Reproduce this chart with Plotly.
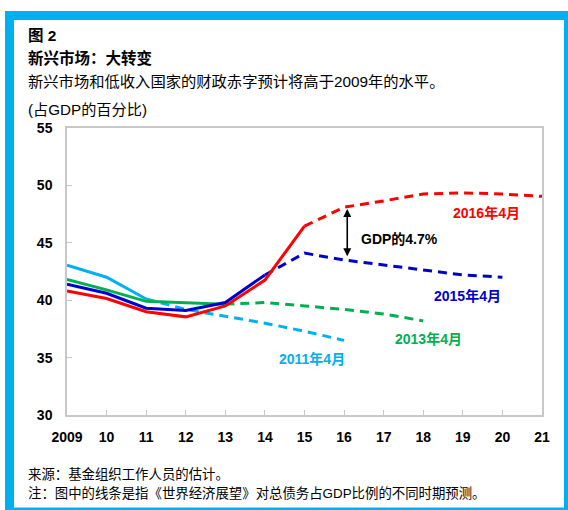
import plotly.graph_objects as go

years = list(range(2009, 2022))
tick_labels = ["2009", "10", "11", "12", "13", "14", "15", "16", "17", "18", "19", "20", "21"]

# Projection vintages (percent of GDP); last actual year index marks solid/dashed split
apr2016_years = list(range(2009, 2022))
apr2016_vals = [40.8, 40.15, 39.0, 38.55, 39.5, 41.75, 46.45, 48.1, 48.65, 49.25, 49.35, 49.25, 49.05]
apr2016_split = 2015

apr2015_years = list(range(2009, 2021))
apr2015_vals = [41.4, 40.6, 39.3, 39.1, 39.8, 42.2, 44.1, 43.5, 43.05, 42.6, 42.2, 42.0]
apr2015_split = 2014

apr2013_years = list(range(2009, 2019))
apr2013_vals = [41.8, 40.9, 39.9, 39.8, 39.65, 39.8, 39.5, 39.2, 38.8, 38.2]
apr2013_split = 2013

apr2011_years = list(range(2009, 2017))
apr2011_vals = [43.05, 42.0, 40.1, 39.2, 38.6, 38.0, 37.3, 36.5]
apr2011_split = 2011

series = [
    ("2011年4月", apr2011_years, apr2011_vals, apr2011_split, "#00B0F0", 2015.2, 34.85),
    ("2013年4月", apr2013_years, apr2013_vals, apr2013_split, "#00B050", 2018.13, 36.6),
    ("2015年4月", apr2015_years, apr2015_vals, apr2015_split, "#0000CC", 2019.12, 40.35),
    ("2016年4月", apr2016_years, apr2016_vals, apr2016_split, "#FF0000", 2019.6, 47.6),
]

W, H = 568, 510
ML, MR, MT, MB = 67, 26, 128, 95
PW = W - ML - MR
PH = H - MT - MB

def px(x):
    return (x - ML) / PW

def py(y):
    return (H - MB - y) / PH

FONT = "Liberation Sans, Arial, Noto Sans CJK SC, sans-serif"

fig = go.Figure()
for name, xs, vs, split, color, lx, ly in series:
    i = xs.index(split)
    fig.add_trace(go.Scatter(x=xs[:i + 1], y=vs[:i + 1], mode="lines",
                             line=dict(color=color, width=3), showlegend=False, hoverinfo="skip"))
    fig.add_trace(go.Scatter(x=xs[i:], y=vs[i:], mode="lines",
                             line=dict(color=color, width=3, dash="9px,6px"), showlegend=False, hoverinfo="skip"))

annotations = []
for name, xs, vs, split, color, lx, ly in series:
    annotations.append(dict(x=lx, y=ly, xref="x", yref="y", text="<b>" + name + "</b>",
                            showarrow=False, font=dict(color=color, size=14, family=FONT)))

# Gap arrow between 2016 and 2015 vintages
gap_x = 2016.08
annotations.append(dict(x=gap_x, y=apr2016_vals[7] - 0.15, ax=gap_x, ay=apr2015_vals[7] + 0.2,
                        xref="x", yref="y", axref="x", ayref="y", text="", showarrow=True,
                        arrowhead=2, arrowside="end+start", arrowsize=1, arrowwidth=1.6, arrowcolor="#000000"))
annotations.append(dict(x=2017.4, y=45.37, xref="x", yref="y", text="<b>GDP的4.7%</b>",
                        showarrow=False, font=dict(color="#000000", size=14, family=FONT)))

texts = [
    ("<b>图 2</b>", 36, 15.5),
    ("<b>新兴市场：大转变</b>", 58, 15.5),
    ("新兴市场和低收入国家的财政赤字预计将高于2009年的水平。", 81, 15.3),
    ("(占GDP的百分比)", 109, 15.2),
    ("来源：基金组织工作人员的估计。", 474, 13.4),
    ("注：图中的线条是指《世界经济展望》对总债务占GDP比例的不同时期预测。", 493, 13.4),
]
for t, yy, fs in texts:
    annotations.append(dict(x=px(26), y=py(yy), xref="paper", yref="paper", text=t, showarrow=False,
                            xanchor="left", yanchor="middle", font=dict(color="#000000", size=fs, family=FONT)))

shapes = [
    dict(type="rect", xref="paper", yref="paper", x0=px(5), x1=px(568), y0=py(510), y1=py(11),
         fillcolor="#00B0F0", line=dict(width=0), layer="below"),
    dict(type="rect", xref="paper", yref="paper", x0=px(14), x1=px(564), y0=py(507.5), y1=py(20),
         fillcolor="#FFFFFF", line=dict(width=0), layer="below"),
]

fig.update_layout(
    width=W, height=H,
    margin=dict(l=ML, r=MR, t=MT, b=MB, pad=0),
    paper_bgcolor="#FFFFFF", plot_bgcolor="rgba(0,0,0,0)",
    font=dict(family=FONT, color="#000000"),
    annotations=annotations, shapes=shapes, showlegend=False,
)
fig.update_xaxes(range=[2009, 2021], tickvals=years, ticktext=["<b>" + t + "</b>" for t in tick_labels],
                 showgrid=False, zeroline=False, showline=True, mirror=True, linecolor="#C8C8C8", linewidth=1.5,
                 ticks="inside", ticklen=5, tickcolor="#C8C8C8", tickfont=dict(size=14, family=FONT),
                 ticklabelstandoff=8)
fig.update_yaxes(range=[30, 55], tickvals=[30, 35, 40, 45, 50, 55],
                 ticktext=["<b>%d</b>" % v for v in [30, 35, 40, 45, 50, 55]],
                 showgrid=False, zeroline=False, showline=True, mirror=True, linecolor="#C8C8C8", linewidth=1.5,
                 ticks="inside", ticklen=5, tickcolor="#C8C8C8", tickfont=dict(size=14, family=FONT),
                 ticklabelstandoff=10)

fig.write_html("out.html", config={"displayModeBar": False},
               post_script="document.body.style.margin='0px';document.body.style.overflow='hidden';")
